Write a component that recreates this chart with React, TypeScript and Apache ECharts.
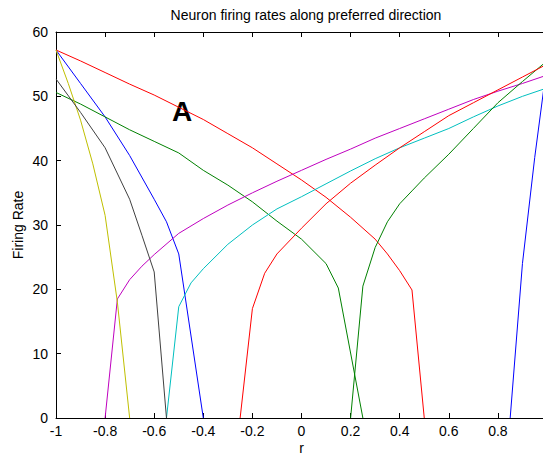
import { useEffect, useRef } from "react";
import * as echarts from "echarts";

// Curves: [r, firing rate]
const blueLeft = [[-1, 57.2], [-0.9, 52], [-0.8, 46.8], [-0.7, 40.8], [-0.6, 34], [-0.55, 30.5], [-0.5, 25.5], [-0.4, 0]];
const greenDesc = [[-1, 50.6], [-0.9, 48.8], [-0.8, 46.8], [-0.7, 44.8], [-0.6, 43], [-0.5, 41.2], [-0.4, 38.5], [-0.3, 36.2], [-0.2, 33.6], [-0.1, 30.6], [0, 27.8], [0.1, 24], [0.15, 20.2], [0.25, 0]];
const redDesc = [[-1, 57.2], [-0.9, 55.5], [-0.8, 53.7], [-0.7, 51.9], [-0.6, 50.2], [-0.5, 48.3], [-0.4, 46.4], [-0.3, 44.2], [-0.2, 42], [-0.1, 39.5], [0, 37], [0.1, 34.3], [0.2, 31.2], [0.3, 27.8], [0.35, 25.5], [0.4, 22.9], [0.45, 19.9], [0.5, 0]];
const cyanAsc = [[-0.55, 0], [-0.5, 17.3], [-0.45, 21], [-0.4, 23.2], [-0.3, 27], [-0.2, 30], [-0.1, 32.5], [0, 34.4], [0.1, 36.4], [0.2, 38.4], [0.3, 40.3], [0.4, 42], [0.5, 43.5], [0.6, 45], [0.7, 46.8], [0.8, 48.5], [0.9, 50], [1, 51.3]];
const magentaAsc = [[-0.8, 0], [-0.75, 18.5], [-0.7, 21.5], [-0.65, 23.6], [-0.6, 25.4], [-0.5, 28.7], [-0.4, 31], [-0.3, 33.1], [-0.2, 35], [-0.1, 36.8], [0, 38.5], [0.1, 40.2], [0.2, 41.8], [0.3, 43.5], [0.4, 45], [0.5, 46.5], [0.6, 48], [0.7, 49.5], [0.8, 50.8], [0.9, 52], [1, 53.3]];
const yellowDesc = [[-1, 57.2], [-0.95, 52], [-0.9, 46.3], [-0.85, 39.5], [-0.8, 31.5], [-0.75, 18], [-0.7, 0]];
const blackDesc = [[-1, 52.7], [-0.9, 47.5], [-0.8, 42], [-0.7, 34], [-0.65, 28.4], [-0.6, 22.7], [-0.55, 0]];
const blueRight = [[0.85, 0], [0.9, 24], [0.95, 40.5], [1, 55]];
const greenAsc = [[0.2, 0], [0.25, 20.5], [0.3, 26.5], [0.35, 30.5], [0.4, 33.3], [0.45, 35.3], [0.5, 37.3], [0.6, 41], [0.7, 45], [0.8, 49], [0.9, 52.3], [1, 55.5]];
const redAsc = [[-0.25, 0], [-0.2, 17], [-0.15, 22.5], [-0.1, 25.5], [0, 29.5], [0.1, 33.3], [0.2, 36.5], [0.3, 39.3], [0.4, 42], [0.5, 44.5], [0.6, 47], [0.7, 49], [0.8, 51], [0.9, 53], [1, 55]];

const curves = [
  { data: blueLeft, color: "#0000ff" },
  { data: greenDesc, color: "#008000" },
  { data: redDesc, color: "#ff0000" },
  { data: cyanAsc, color: "#00bfbf" },
  { data: magentaAsc, color: "#bf00bf" },
  { data: yellowDesc, color: "#bfbf00" },
  { data: blackDesc, color: "#404040" },
  { data: blueRight, color: "#0000ff" },
  { data: greenAsc, color: "#008000" },
  { data: redAsc, color: "#ff0000" },
];

const FONT = '"Liberation Sans", Arial, sans-serif';

export default function App() {
  const ref = useRef<HTMLDivElement>(null);
  useEffect(() => {
    if (!ref.current) return;
    const chart = echarts.init(ref.current, undefined, { renderer: "svg" });
    const axisLine = { show: true, onZero: false, lineStyle: { color: "#000", width: 1 } };
    const tick = { show: true, inside: true, length: 5, lineStyle: { color: "#000" } };
    chart.setOption({
      animation: false,
      backgroundColor: "#fff",
      title: {
        text: "Neuron firing rates along preferred direction",
        left: 301,
        textAlign: "center",
        top: 3,
        textStyle: { fontFamily: FONT, fontSize: 14, fontWeight: "normal", color: "#000" },
      },
      grid: { left: 56, top: 32, width: 491, height: 386, containLabel: false, outerBoundsMode: "none" },
      xAxis: [
        {
          type: "value",
          min: -1,
          max: 1,
          interval: 0.2,
          position: "bottom",
          name: "r",
          nameLocation: "middle",
          nameGap: 23,
          nameMoveOverlap: false,
          nameTextStyle: { fontFamily: FONT, fontSize: 14, color: "#000" },
          axisLine,
          axisTick: tick,
          splitLine: { show: false },
          axisLabel: {
            margin: 6,
            fontFamily: FONT,
            fontSize: 14,
            color: "#000",
            showMaxLabel: false,
            formatter: (v: number) => (v >= 0.99 ? "" : String(Math.round(v * 10) / 10)),
          },
        },
        {
          type: "value",
          min: -1,
          max: 1,
          interval: 0.2,
          position: "top",
          axisLine,
          axisTick: tick,
          splitLine: { show: false },
          axisLabel: { show: false },
        },
      ],
      yAxis: {
        type: "value",
        min: 0,
        max: 60,
        interval: 10,
        position: "left",
        name: "Firing Rate",
        nameLocation: "middle",
        nameGap: 31,
        nameMoveOverlap: false,
        nameTextStyle: { fontFamily: FONT, fontSize: 14, color: "#000" },
        axisLine,
        axisTick: tick,
        splitLine: { show: false },
        axisLabel: { margin: 8, fontFamily: FONT, fontSize: 14, color: "#000" },
      },
      graphic: [
        {
          type: "text",
          x: 182,
          y: 111,
          style: {
            text: "A",
            fontFamily: FONT,
            fontSize: 28,
            fontWeight: "bold",
            fill: "#000",
            align: "center",
            verticalAlign: "middle",
          },
        },
      ],
      series: curves.map((c) => ({
        type: "line",
        xAxisIndex: 0,
        data: c.data,
        symbol: "none",
        showSymbol: false,
        lineStyle: { color: c.color, width: 1 },
        itemStyle: { color: c.color },
      })),
    });
    return () => chart.dispose();
  }, []);
  return (
    <div
      ref={ref}
      style={{ position: "fixed", left: 0, top: 0, width: 543, height: 455, background: "#fff" }}
    />
  );
}
